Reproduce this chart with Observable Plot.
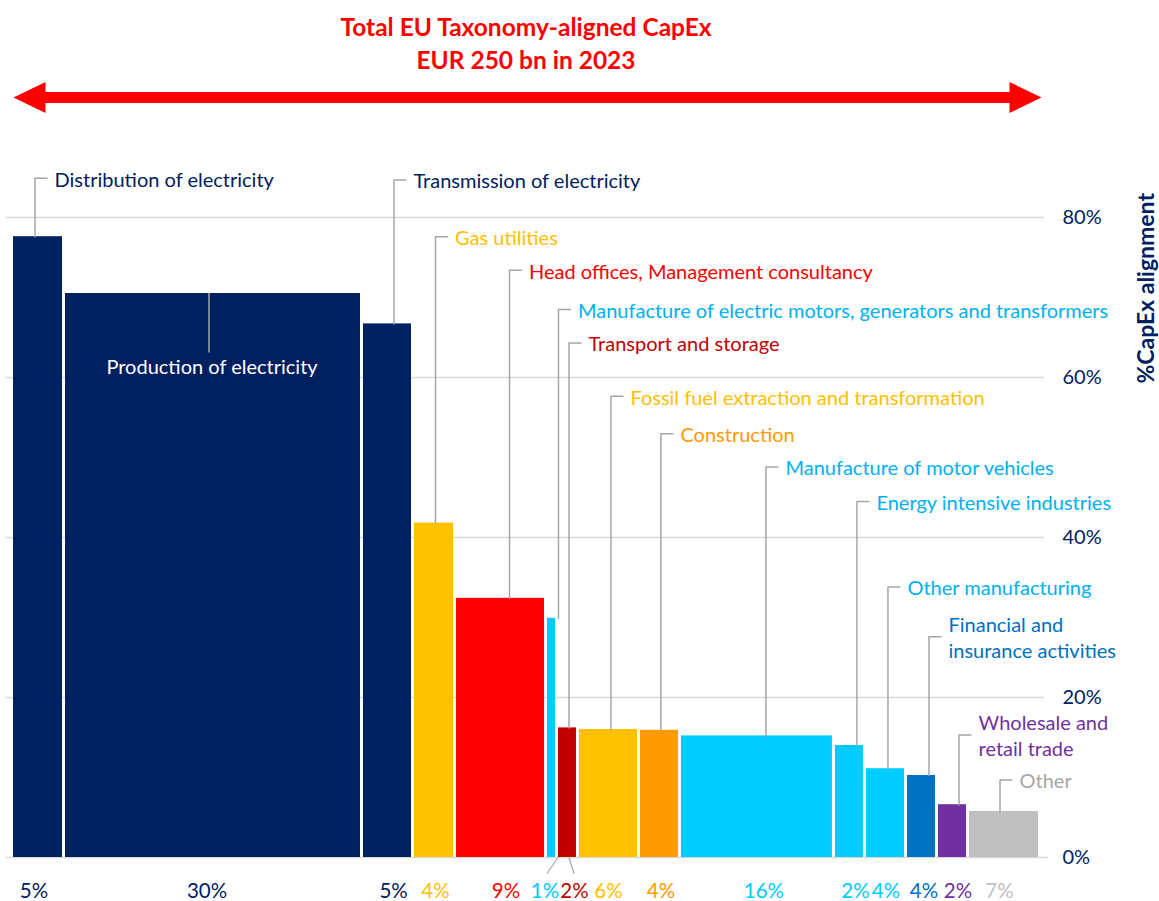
<!DOCTYPE html>
<html>
<head>
<meta charset="utf-8">
<script src="https://cdn.jsdelivr.net/npm/d3@7"></script>
<script src="https://cdn.jsdelivr.net/npm/@observablehq/plot@0.6"></script>
<style>
  html, body { margin: 0; padding: 0; background: #ffffff; }
  #title {
    width: 1052px; height: 80px; box-sizing: border-box; padding-top: 10px;
    text-align: center; color: #FF0000; font-family: Lato, sans-serif;
    font-weight: bold; font-size: 24.5px; line-height: 33px;
  }
  #chart svg { display: block; overflow: visible; }
</style>
</head>
<body>
<div id="title"></div>
<div id="chart"></div>
<script>
// ---------------- data ----------------
const titleLines = ["Total EU Taxonomy-aligned CapEx", "EUR 250 bn in 2023"];
const axisTitle = "%CapEx alignment";

const categories = [
  "Distribution of electricity",
  "Production of electricity",
  "Transmission of electricity",
  "Gas utilities",
  "Head offices, Management consultancy",
  "Manufacture of electric motors, generators and transformers",
  "Transport and storage",
  "Fossil fuel extraction and transformation",
  "Construction",
  "Manufacture of motor vehicles",
  "Energy intensive industries",
  "Other manufacturing",
  "Financial and\ninsurance activities",
  "Wholesale and\nretail trade",
  "Other"
];
// %CapEx alignment (bar height)
const alignment = [77.6, 70.5, 66.7, 41.8, 32.4, 29.9, 16.2, 16.0, 15.9, 15.2, 14.0, 11.1, 10.25, 6.6, 5.75];
// share of total aligned CapEx (bar width)
const shares = [5.06, 28.99, 4.96, 4.09, 8.85, 1.07, 2.04, 5.93, 3.99, 14.98, 3.02, 3.99, 3.02, 3.02, 7.0];
const shareLabels = ["5%", "30%", "5%", "4%", "9%", "1%", "2%", "6%", "4%", "16%", "2%", "4%", "4%", "2%", "7%"];
const barColors = ["#002060", "#002060", "#002060", "#FFC000", "#FF0000", "#00CCFF", "#C00000", "#FFC000",
  "#FF9900", "#00CCFF", "#00CCFF", "#00CCFF", "#0070C0", "#7030A0", "#BFBFBF"];
const textColors = ["#002060", "#FFFFFF", "#002060", "#FFC000", "#FF0000", "#00B0F0", "#C00000", "#FFC000",
  "#FF9900", "#00B0F0", "#00B0F0", "#00B0F0", "#0070C0", "#7030A0", "#A6A6A6"];
const shareLabelColors = ["#002060", "#002060", "#002060", "#FFC000", "#FF0000", "#00CCFF", "#C00000", "#FFC000",
  "#FF9900", "#00CCFF", "#00CCFF", "#00CCFF", "#0070C0", "#7030A0", "#BFBFBF"];
const yTicks = [0, 20, 40, 60, 80];

// ---------------- layout (label placement) ----------------
const labelLevels = [84.9, 61.3, 84.7, 77.6, 73.4, 68.5, 64.3, 57.65, 52.96, 48.8, 44.5, 33.8, 27.6, 15.3, 9.7];
const insideLabel = [false, true, false, false, false, false, false, false, false, false, false, false, false, false, false];
const leaderShiftPx = [-4.5, -5.5, 5, 0, 7.5, 5.5, 0, 1, 0, 7.5, 6, 1, 6, 5, -5.5];
const shareLabelShiftPx = [-5.5, -7.5, 4.6, 0, 4, -8, 5.5, -1.5, 0, 5.5, 4.5, -1, 1, 4, -6];
const shareLeaderStartPx = [null, null, null, null, null, 5, 0, null, null, null, null, null, null, null, null];

const W = 1159, H = 821, mL = 13, mR = 118, mT = 137, mB = 44;
const total = d3.sum(shares);
const k = (W - mR - mL) / total; // pixels per share unit
const navy = "#002060", red = "#FF0000", leaderColor = "#A6A6A6", gridColor = "#D9D9D9";

d3.select("#title").html(titleLines.join("<br>"));

let cum = 0;
const rows = categories.map((name, i) => {
  const x0 = cum; cum += shares[i];
  const xc = x0 + shares[i] / 2;
  return {
    name, value: alignment[i], x0, x1: cum, xc,
    xl: xc + leaderShiftPx[i] / k,
    level: labelLevels[i], inside: insideLabel[i],
    color: barColors[i], textColor: textColors[i],
    share: shareLabels[i], shareColor: shareLabelColors[i],
    sx: xc + shareLabelShiftPx[i] / k,
    sl: shareLeaderStartPx[i]
  };
});

const tick = 12 / k, textGap = 19.5 / k;
const leaderPts = [];
rows.forEach(r => {
  if (r.inside) {
    leaderPts.push({z: r.name, x: r.xl, y: r.value}, {z: r.name, x: r.xl, y: r.level + 1.9});
  } else {
    leaderPts.push({z: r.name, x: r.xl, y: r.value}, {z: r.name, x: r.xl, y: r.level}, {z: r.name, x: r.xl + tick, y: r.level});
  }
});
const outsideLabels = rows.filter(r => !r.inside).map(r => ({...r, tx: r.xl + textGap}));
const insideLabels = rows.filter(r => r.inside).map(r => ({...r, tx: r.xc - 2.5 / k}));
const shareLeaders = rows.filter(r => r.sl !== null).map(r => ({x1: r.xc + r.sl / k, x2: r.sx + (r.sx < r.xc ? 2 : -0.5) / k, y1: 0, y2: -2.0}));

// arrow (decoration above the plot)
const arrowY = 95;
const headRight = {draw(c) { c.moveTo(0, 0); c.lineTo(-32, -15.5); c.lineTo(-32, 15.5); c.closePath(); }};
const headLeft = {draw(c) { c.moveTo(0, 0); c.lineTo(32, -15.5); c.lineTo(32, 15.5); c.closePath(); }};

const chart = Plot.plot({
  width: W, height: H,
  marginLeft: mL, marginRight: mR, marginTop: mT, marginBottom: mB,
  x: {domain: [0, total], axis: null},
  y: {domain: [0, 80]},
  color: {type: "identity"},
  style: {fontFamily: "Lato, sans-serif", color: navy, background: "white", overflow: "visible"},
  marks: [
    Plot.ruleY(yTicks.filter(d => d > 0), {stroke: gridColor, strokeWidth: 1.5, insetLeft: -7, insetRight: -3}),
    Plot.ruleY([0], {stroke: gridColor, strokeWidth: 1.5, insetLeft: -7, insetRight: -7}),
    Plot.axisY(yTicks, {anchor: "right", tickSize: 0, tickPadding: 21, tickFormat: d => d + "%", fontSize: 20, label: null}),
    Plot.text([axisTitle], {frameAnchor: "right", y: 71.15, dx: 105, rotate: -90, textAnchor: "middle", text: d => d, fontSize: 23, fontWeight: "bold", fill: navy}),
    Plot.rectY(rows, {x1: "x0", x2: "x1", y: "value", fill: "color", insetRight: 3}),
    Plot.line(leaderPts, {x: "x", y: "y", z: "z", stroke: leaderColor, strokeWidth: 1.5, curve: "linear"}),
    Plot.text(outsideLabels, {x: "tx", y: "level", text: "name", fill: "textColor", textAnchor: "start", fontSize: 20, lineHeight: 1.3}),
    Plot.text(insideLabels, {x: "tx", y: "level", text: "name", fill: "textColor", textAnchor: "middle", fontSize: 20}),
    Plot.link(shareLeaders, {x1: "x1", x2: "x2", y1: "y1", y2: "y2", stroke: leaderColor, strokeWidth: 1.2}),
    Plot.text(rows, {x: "sx", y: 0, dy: 34, text: "share", fill: "shareColor", fontSize: 20.5}),
    Plot.ruleY([{y: arrowY}], {y: "y", x1: () => 2, x2: () => total - 2, stroke: red, strokeWidth: 11}),
    Plot.dot([{x: total, y: arrowY}], {x: "x", y: "y", symbol: headRight, fill: red, stroke: null, r: 5}),
    Plot.dot([{x: 0, y: arrowY}], {x: "x", y: "y", symbol: headLeft, fill: red, stroke: null, r: 5})
  ]
});
document.getElementById("chart").appendChild(chart);
</script>
</body>
</html>
